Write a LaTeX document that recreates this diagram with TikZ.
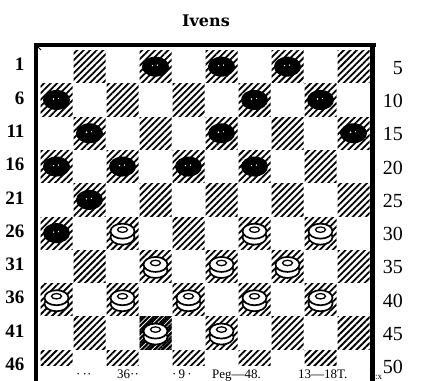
\documentclass[tikz,border=0pt]{standalone}
\usepackage{fontspec}
\setmainfont{Liberation Serif}
\newfontfamily\titlefont{DejaVu Serif}
\usetikzlibrary{patterns.meta}
\begin{document}
\begin{tikzpicture}[x=1pt,y=-1pt,
  hatch/.style={pattern={Lines[angle=45,distance=4.6pt,line width=1.8pt]}},
  densehatch/.style={pattern={Lines[angle=45,distance=3pt,line width=1.9pt]}},
  frame/.style={line width=4.2pt},
  blackman/.style={fill=black},
  whiteman/.style={fill=white,draw=black,line width=1.7pt},
  leftlab/.style={anchor=east,font=\bfseries\fontsize{19}{19}\selectfont},
  rightlab/.style={anchor=east,inner sep=0pt,font=\fontsize{20}{20}\selectfont},
  titlestyle/.style={font=\titlefont\bfseries\fontsize{16}{16}\selectfont},
  noisetext/.style={anchor=base west,font=\fontsize{13}{13}\selectfont,inner sep=0pt}]
\useasboundingbox (0,0) rectangle (424,381);
\fill[white] (0,0) rectangle (424,381);
% title
\node[titlestyle] (title) at (206,21) {Ivens};
% dark squares rows 1-9
\foreach \r in {1,...,9} {
  \foreach \c in {1,...,10} {
    \pgfmathtruncatemacro\odd{mod(\r+\c,2)}
    \ifnum\odd=1
      \fill[hatch] ({40+33*(\c-1)+0.5},{50+33.3*(\r-1)+0.5}) rectangle ++(32,32.3);
    \fi
  }
}
% row 10 (partly visible)
\foreach \c in {1,3,5,7,9} {
  \fill[hatch] ({40+33*(\c-1)+0.5},{50+33.3*9+0.5}) rectangle ++(32,15);
}
% darker square 42
\fill[densehatch] ({40+33*3+0.5},{50+33.3*8+0.5}) rectangle ++(32,32.3);
% square centres
\foreach \n in {1,...,45} {
  \pgfmathtruncatemacro\r{int((\n-1)/5)+1}
  \pgfmathtruncatemacro\k{\n-5*(\r-1)}
  \pgfmathtruncatemacro\c{mod(\r,2)==1 ? 2*\k : 2*\k-1}
  \coordinate (p\n) at ({40+33*(\c-0.5)},{50+33.3*(\r-0.5)});
}
% black men
\foreach \n in {2,3,4,6,9,10,11,13,15,16,17,18,19,21,26} {
  \fill[blackman] (p\n) ellipse [x radius=13.5pt,y radius=10pt];
  \fill[white,shift={(p\n)}] (-3,-1) circle [radius=0.8pt] (2,-1.5) circle [radius=0.7pt];
}
% white men
\foreach \n in {27,29,30,32,33,34,36,37,38,39,40,42,43} {
  \filldraw[whiteman,shift={(p\n)}] (0,4) ellipse [x radius=12pt,y radius=7.5pt];
  \filldraw[whiteman,shift={(p\n)}] (0,-2) ellipse [x radius=12pt,y radius=7.5pt];
  \draw[line width=1.3pt,shift={(p\n)}] (0,-3.5) ellipse [x radius=5pt,y radius=2.7pt];
}
% frame
\draw[frame] (36,44) -- (36,381);
\draw[frame] (34,45) -- (376,45);
\draw[frame] (372.5,43) -- (372.5,381);
\draw[line width=1pt] (35,44) -- (41,50);
% labels
\foreach \r in {1,...,10} {
  \pgfmathtruncatemacro\lnum{5*(\r-1)+1}
  \pgfmathtruncatemacro\rnum{5*\r}
  \node[leftlab] (ll\r) at (28,{50+33.3*(\r-0.5)-2}) {\lnum};
  \node[rightlab] (rl\r) at (403,{50+33.3*(\r-0.5)+1}) {\rnum};
}
% bleed-through text at the foot
\node[noisetext] (noiseA) at (76,378) {·\,··};
\node[noisetext] (noiseB) at (117,378) {36··};
\node[noisetext] (noiseC) at (172,378) {·\,9\,·};
\node[noisetext] (noiseD) at (212,378) {Peg—48.};
\node[noisetext] (noiseE) at (298,378) {13—18T.};
\node[noisetext,font=\fontsize{9}{9}\selectfont] (noiseF) at (375,379) {:x};
\end{tikzpicture}
\end{document}
